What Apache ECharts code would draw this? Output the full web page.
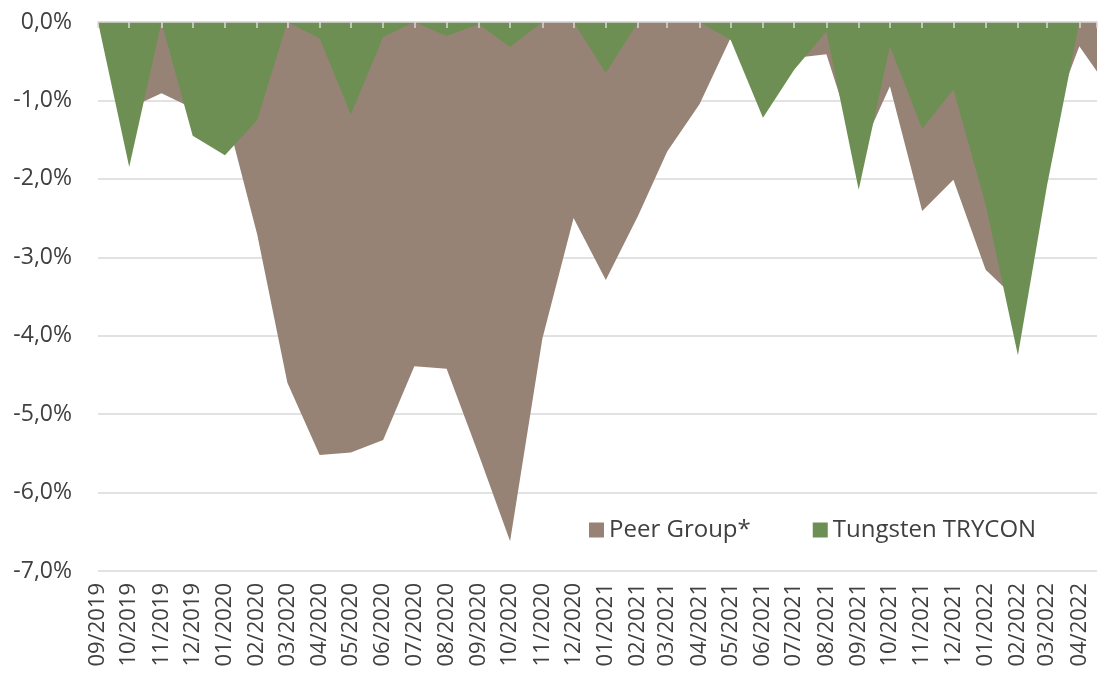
<!DOCTYPE html>
<html lang="de">
<head>
    <meta charset="UTF-8">
    <title>Drawdown</title>
    <script src="https://cdn.jsdelivr.net/npm/echarts@6/dist/echarts.min.js"></script>
    <style>
        html, body { margin: 0; padding: 0; background: #fff; }
        #main { width: 1107px; height: 679px; }
    </style>
</head>
<body>
<div id="main"></div>
<script>
    // monthly points, last one is a part month
    var dates = ['2019-09-01', '2019-10-01', '2019-11-01', '2019-12-01',
        '2020-01-01', '2020-02-01', '2020-03-01', '2020-04-01', '2020-05-01', '2020-06-01',
        '2020-07-01', '2020-08-01', '2020-09-01', '2020-10-01', '2020-11-01', '2020-12-01',
        '2021-01-01', '2021-02-01', '2021-03-01', '2021-04-01', '2021-05-01', '2021-06-01',
        '2021-07-01', '2021-08-01', '2021-09-01', '2021-10-01', '2021-11-01', '2021-12-01',
        '2022-01-01', '2022-02-01', '2022-03-01', '2022-04-01', '2022-04-18'];
    var peerGroup = [0, -1.1, -0.91, -1.1,
        -1.12, -2.71, -4.6, -5.52, -5.49, -5.33,
        -4.39, -4.42, -5.52, -6.62, -4.04, -2.5,
        -3.29, -2.47, -1.65, -1.05, -0.2, -0.8,
        -0.46, -0.41, -1.7, -0.82, -2.41, -2.01,
        -3.16, -3.55, -1.4, -0.31, -0.63];
    var trycon = [0, -1.85, 0, -1.45,
        -1.7, -1.25, 0, -0.21, -1.18, -0.19,
        0, -0.18, -0.03, -0.32, 0, 0,
        -0.65, 0, 0, 0, -0.23, -1.22,
        -0.61, -0.12, -2.14, -0.31, -1.36, -0.86,
        -2.33, -4.25, -2.08, 0, 0];
    var seriesNames = ['Peer Group*', 'Tungsten TRYCON'];
    var colors = ['#968375', '#6e8f53'];

    function pairs(vals) {
        return dates.map(function (d, i) { return [d, vals[i]]; });
    }
    function pad(n) { return n < 10 ? '0' + n : '' + n; }

    var chart = echarts.init(document.getElementById('main'));
    var font = "'Open Sans', 'Noto Sans', sans-serif";
    var month = 24 * 3600 * 1000 * 30;

    chart.setOption({
        animation: false,
        textStyle: { fontFamily: font },
        color: colors,
        grid: { left: 98, right: 10, top: 22, bottom: 108, containLabel: false },
        legend: {
            data: seriesNames,
            left: 584,
            top: 513,
            icon: 'rect',
            itemWidth: 15,
            itemHeight: 15,
            itemGap: 62,
            textStyle: { fontSize: 24, color: '#404040', fontFamily: font }
        },
        xAxis: [{
            type: 'time',
            position: 'top',
            z: 5,
            min: dates[0],
            max: dates[dates.length - 1],
            minInterval: month,
            maxInterval: month,
            axisLine: { onZero: false, lineStyle: { color: '#d9d9d9', width: 1.5 } },
            axisTick: { show: true, inside: true, length: 6, lineStyle: { color: '#d9d9d9', width: 1.5 } },
            axisLabel: { show: false },
            splitLine: { show: false }
        }, {
            type: 'time',
            position: 'bottom',
            min: dates[0],
            max: dates[dates.length - 1],
            minInterval: month,
            maxInterval: month,
            axisLine: { show: false },
            axisTick: { show: false },
            splitLine: { show: false },
            axisLabel: {
                rotate: 90,
                margin: 12,
                fontSize: 22,
                color: '#404040',
                fontFamily: font,
                hideOverlap: false,
                formatter: function (v) {
                    var d = new Date(v);
                    return pad(d.getMonth() + 1) + '/' + d.getFullYear();
                }
            }
        }],
        yAxis: {
            type: 'value',
            min: -7,
            max: 0,
            interval: 1,
            axisLine: { show: false },
            axisTick: { show: false },
            splitLine: { lineStyle: { color: '#d9d9d9', width: 1.5 } },
            axisLabel: {
                margin: 26,
                fontSize: 23,
                color: '#404040',
                fontFamily: font,
                formatter: function (v) {
                    return v.toFixed(1).replace('.', ',').replace('-0,0', '0,0') + '%';
                }
            }
        },
        series: [{
            name: seriesNames[0],
            type: 'line',
            xAxisIndex: 0,
            data: pairs(peerGroup),
            showSymbol: false,
            lineStyle: { width: 0 },
            areaStyle: { color: colors[0], opacity: 1 }
        }, {
            name: seriesNames[1],
            type: 'line',
            xAxisIndex: 0,
            data: pairs(trycon),
            showSymbol: false,
            lineStyle: { width: 0 },
            areaStyle: { color: colors[1], opacity: 1 }
        }]
    });
</script>
</body>
</html>
